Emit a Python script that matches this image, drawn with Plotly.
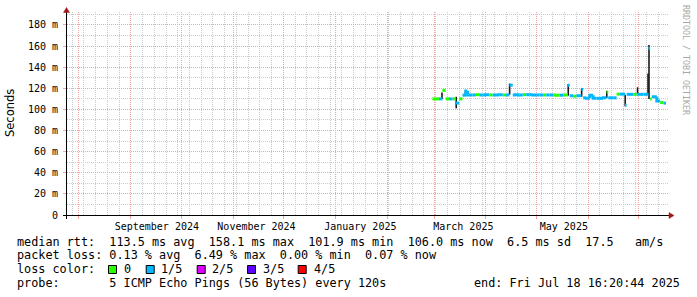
import plotly.graph_objects as go
import pandas as pd

# ---------------- data ----------------
dates = [
    "2025-02-28", "2025-03-02", "2025-03-04", "2025-03-06", "2025-03-08", "2025-03-10",
    "2025-03-12", "2025-03-14", "2025-03-16", "2025-03-18", "2025-03-20", "2025-03-21",
    "2025-03-24", "2025-03-26", "2025-03-28", "2025-03-30", "2025-04-01", "2025-04-03",
    "2025-04-05", "2025-04-07", "2025-04-09", "2025-04-11", "2025-04-13", "2025-04-15",
    "2025-04-17", "2025-04-19", "2025-04-21", "2025-04-23", "2025-04-25", "2025-04-27",
    "2025-04-29", "2025-05-01", "2025-05-03", "2025-05-05", "2025-05-07", "2025-05-09",
    "2025-05-11", "2025-05-13", "2025-05-15", "2025-05-17", "2025-05-20", "2025-05-21",
    "2025-05-23", "2025-05-25", "2025-05-28", "2025-05-29", "2025-05-31", "2025-06-02",
    "2025-06-04", "2025-06-06", "2025-06-08", "2025-06-10", "2025-06-12", "2025-06-13",
    "2025-06-16", "2025-06-18", "2025-06-20", "2025-06-23", "2025-06-24", "2025-06-26",
    "2025-06-28", "2025-06-30", "2025-07-02", "2025-07-04", "2025-07-07", "2025-07-08",
    "2025-07-09", "2025-07-12", "2025-07-14", "2025-07-16",
]
series_end = "2025-07-17 12:00"

# median rtt in milliseconds
rtt_ms = [
    110, 110, 110, 118, 110, 110,
    110, 106, 110, 113.5, 117.5, 113.7,
    113.7, 114, 113.7, 113.7, 114, 113.7,
    113.7, 113.7, 114, 113.7, 113.7, 123,
    113.7, 114, 113.7, 114, 114, 114,
    113.7, 113.7, 113.7, 113.7, 113.7, 113.7,
    113.7, 113.5, 113.5, 113.7, 123, 113,
    112.5, 113, 119, 111, 110.5, 113.5,
    110.5, 110.5, 110.5, 111, 116.5, 111,
    111, 114.5, 114.5, 104, 114.3, 114.3,
    114.3, 114.3, 114.3, 114.3, 158, 110,
    112, 108, 106.5, 106,
]

# loss level index per sample (0 -> 0/5, 1 -> 1/5 ...)
loss_level = [
    0, 0, 1, 0, 0, 1,
    0, 1, 0, 1, 1, 1,
    1, 0, 1, 1, 1, 0,
    1, 1, 1, 0, 1, 1,
    1, 1, 1, 0, 1, 1,
    1, 1, 1, 0, 1, 1,
    0, 0, 1, 0, 1, 1,
    0, 1, 1, 1, 1, 1,
    1, 1, 1, 1, 0, 1,
    1, 0, 1, 1, 1, 1,
    0, 1, 1, 1, 1, 0,
    1, 1, 0, 1,
]

# visible ping spread ("smoke") around the median
smoke_dates = ["2025-03-05 18:00", "2025-03-14 06:00", "2025-03-19 18:00", "2025-04-15 03:00",
               "2025-05-20 03:00", "2025-05-28 03:00", "2025-06-12 03:00", "2025-06-23 03:00",
               "2025-06-30 12:00", "2025-07-06 18:00", "2025-07-07 08:00"]
smoke_lo = [110, 101, 113, 114, 113, 112, 111, 103, 114, 114, 110]
smoke_hi = [116, 112, 118, 124.5, 124, 120, 117.5, 114, 121, 134, 161]

loss_labels = ["0", "1/5", "2/5", "3/5", "4/5"]
loss_colors = ["#26ff00", "#00b8ff", "#dd00ff", "#5e00ff", "#ff0000"]

y_tick_vals = [0, 20, 40, 60, 80, 100, 120, 140, 160, 180]
y_tick_text = ["0", "20 m", "40 m", "60 m", "80 m", "100 m", "120 m", "140 m", "160 m", "180 m"]

month_labels = ["September 2024", "November 2024", "January 2025", "March 2025", "May 2025"]
month_label_dates = ["2024-09-16 12:00", "2024-11-15 00:00", "2025-01-16 00:00",
                     "2025-03-18 12:00", "2025-05-17 12:00"]

x_start = "2024-07-24 21:00"
x_end = "2025-07-18 16:20:44"
y_max = 192.3

legend_lines = [
    "median rtt:  113.5 ms avg  158.1 ms max  101.9 ms min  106.0 ms now  6.5 ms sd  17.5   am/s",
    "packet loss: 0.13 % avg  6.49 % max  0.00 % min  0.07 % now",
    "loss color:",
    "probe:       5 ICMP Echo Pings (56 Bytes) every 120s",
]
end_text = "end: Fri Jul 18 16:20:44 2025"
watermark = "RRDTOOL / TOBI OETIKER"
y_title = "Seconds"

# ---------------- geometry / style ----------------
W, H = 697, 297
L, R, T, B = 67, 29, 12, 82
PW, PH = W - L - R, H - T - B
MONO = "DejaVu Sans Mono"
MAJOR = "#f2a4a4"
MINOR = "#cacaca"
AXIS_RED = "#a01818"
FS = 11.8
JOIN_LIMIT = 4  # larger jumps are shown only by the smoke


def px(x):
    return (x - L) / PW


def py(y):
    return (T + PH - y) / PH


def nb(s):
    return s.replace(" ", "\u00a0")


ts = list(pd.to_datetime(dates))
ends = ts[1:] + [pd.Timestamp(series_end)]

fig = go.Figure()

# smoke
sx, sy = [], []
for d, lo, hi in zip(smoke_dates, smoke_lo, smoke_hi):
    t = pd.Timestamp(d)
    sx += [t, t, None]
    sy += [lo, hi, None]
fig.add_trace(go.Scatter(x=sx, y=sy, mode="lines", line=dict(color="#1a1a1a", width=1.6),
                         hoverinfo="skip", showlegend=False))

# median line coloured by loss (vertical joins only inside one colour run)
for lvl, col in enumerate(loss_colors):
    xs, ys = [], []
    for i in range(len(rtt_ms)):
        if loss_level[i] != lvl:
            continue
        if i > 0 and loss_level[i - 1] == lvl and abs(rtt_ms[i] - rtt_ms[i - 1]) <= JOIN_LIMIT:
            xs += [ts[i], ts[i], ends[i], None]
            ys += [rtt_ms[i - 1], rtt_ms[i], rtt_ms[i], None]
        else:
            xs += [ts[i], ends[i], None]
            ys += [rtt_ms[i], rtt_ms[i], None]
    if xs:
        fig.add_trace(go.Scatter(x=xs, y=ys, mode="lines", line=dict(color=col, width=3),
                                 hoverinfo="skip", showlegend=False))

# carrier for the month label axis
fig.add_trace(go.Scatter(x=ts, y=rtt_ms, xaxis="x2", yaxis="y", mode="none",
                         hoverinfo="skip", showlegend=False))

shapes = []
# axis lines
shapes.append(dict(type="line", xref="paper", yref="paper", x0=px(63), x1=px(670),
                   y0=py(215.5), y1=py(215.5), line=dict(color="#000000", width=1), layer="above"))
shapes.append(dict(type="line", xref="paper", yref="paper", x0=px(66.5), x1=px(66.5),
                   y0=py(219), y1=py(11), line=dict(color="#000000", width=1), layer="above"))
# arrows
shapes.append(dict(type="path", xref="paper", yref="paper",
                   path=f"M {px(669)} {py(212.5)} L {px(674)} {py(215.5)} L {px(669)} {py(218.5)} Z",
                   fillcolor=AXIS_RED, line=dict(color=AXIS_RED, width=0.5), layer="above"))
shapes.append(dict(type="path", xref="paper", yref="paper",
                   path=f"M {px(63.5)} {py(12.5)} L {px(66.5)} {py(7.5)} L {px(69.5)} {py(12.5)} Z",
                   fillcolor=AXIS_RED, line=dict(color=AXIS_RED, width=0.5), layer="above"))

annotations = []
line_y = [241.5, 255.3, 269.2, 283.2]
for txt, yy in zip(legend_lines, line_y):
    annotations.append(dict(xref="paper", yref="paper", x=px(16), y=py(yy), text=nb(txt),
                            showarrow=False, xanchor="left", yanchor="middle", borderpad=0,
                            font=dict(family=MONO, size=FS, color="#000000")))
annotations.append(dict(xref="paper", yref="paper", x=px(681), y=py(283.2), text=nb(end_text),
                        showarrow=False, xanchor="right", yanchor="middle", borderpad=0,
                        font=dict(family=MONO, size=FS, color="#000000")))

# loss colour legend
sq_x = [108, 145.7, 196.7, 247, 297.7]
lab_x = [123, 160, 211, 262, 312.7]
for lab, col, sxp, lxp in zip(loss_labels, loss_colors, sq_x, lab_x):
    shapes.append(dict(type="rect", xref="paper", yref="paper", x0=px(sxp + 0.5), x1=px(sxp + 8.5),
                       y0=py(265.5), y1=py(273.5), fillcolor=col,
                       line=dict(color="#000000", width=1), layer="above"))
    annotations.append(dict(xref="paper", yref="paper", x=px(lxp), y=py(269.2), text=nb(lab),
                            showarrow=False, xanchor="left", yanchor="middle", borderpad=0,
                            font=dict(family=MONO, size=FS, color="#000000")))

annotations.append(dict(xref="paper", yref="paper", x=px(10), y=py(113), text=y_title,
                        showarrow=False, textangle=-90, xanchor="center", yanchor="middle",
                        font=dict(family="DejaVu Sans", size=11.5, color="#000000")))
annotations.append(dict(xref="paper", yref="paper", x=px(686), y=py(60), text=nb(watermark),
                        showarrow=False, textangle=90, xanchor="center", yanchor="middle",
                        font=dict(family=MONO, size=8.3, color="#a8a8a8")))

fig.update_layout(
    width=W, height=H,
    margin=dict(l=L, r=R, t=T, b=B, pad=0),
    plot_bgcolor="white", paper_bgcolor="white",
    showlegend=False,
    xaxis=dict(type="date", range=[x_start, x_end], tickmode="linear", tick0="2024-08-01",
               dtick="M1", showticklabels=False, showgrid=True, gridcolor=MAJOR,
               griddash="1px,1px", gridwidth=1, ticks="outside", ticklen=3, tickcolor=MAJOR,
               minor=dict(tick0="2024-07-28", dtick=7 * 86400000, showgrid=True,
                          gridcolor=MINOR, griddash="1px,1px", gridwidth=1),
               zeroline=False, showline=False),
    xaxis2=dict(type="date", overlaying="x", anchor="y", side="bottom",
                range=[x_start, x_end], tickmode="array", tickvals=month_label_dates,
                ticktext=month_labels, showgrid=False, ticks="", zeroline=False,
                showline=False, ticklabelstandoff=4,
                tickfont=dict(family=MONO, size=10, color="#000000")),
    yaxis=dict(range=[0, y_max], tickmode="array", tickvals=y_tick_vals, ticktext=y_tick_text,
               showgrid=True, gridcolor=MAJOR, griddash="1px,1px", gridwidth=1,
               minor=dict(dtick=10, showgrid=True, gridcolor=MINOR, griddash="1px,1px",
                          gridwidth=1),
               ticks="outside", ticklen=3, tickcolor=MAJOR, zeroline=False, showline=False,
               ticklabelstandoff=3, tickfont=dict(family=MONO, size=10, color="#000000")),
    shapes=shapes,
    annotations=annotations,
)

fig.write_html("out.html")
